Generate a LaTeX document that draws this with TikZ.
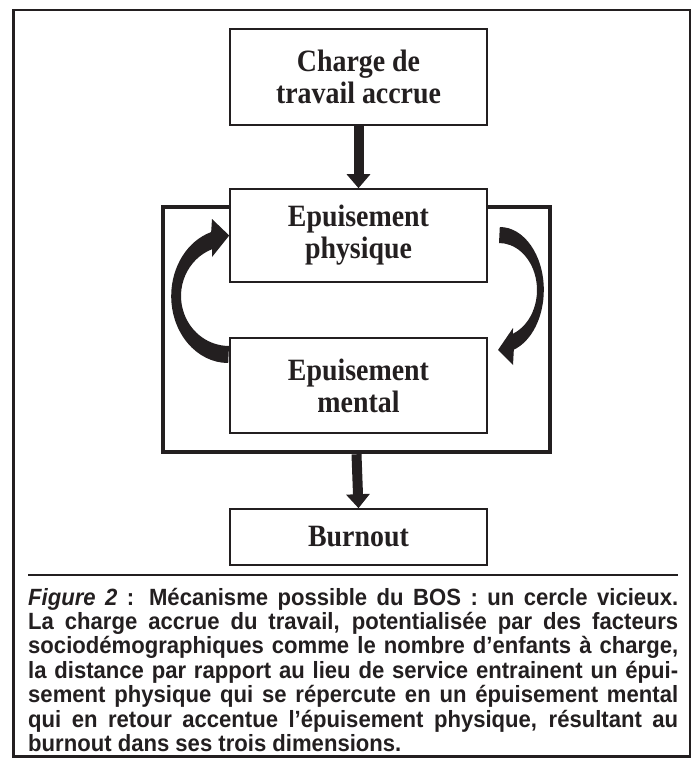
\documentclass[tikz,border=0pt]{standalone}
\usepackage{fontspec}
\setmainfont{Liberation Serif}
\newfontfamily\boxfont[FakeStretch=0.9]{Liberation Serif}
\newfontfamily\capfont[FakeStretch=0.94]{Liberation Sans}
\usetikzlibrary{arrows.meta,calc}
\definecolor{ink}{HTML}{231F20}
\begin{document}
\begin{tikzpicture}[x=1pt,y=-1pt,
  boxnode/.style={draw=ink, line width=1.6pt, fill=white, minimum width=257pt,
    inner sep=0pt, align=center, text=ink,
    font=\boxfont\fontsize{31}{32}\selectfont\bfseries},
  downarrow/.style={draw=ink, line width=10pt, -{Triangle[width=23pt,length=14pt]}},
  looparrow/.style={fill=ink},
  loopframe/.style={draw=ink, line width=4.5pt, minimum width=387pt, minimum height=245pt, inner sep=0pt},
  outerframe/.style={draw=ink, line width=2.5pt},
  rulestyle/.style={draw=ink, line width=1.2pt},
  captext/.style={anchor=base west, inner sep=0pt, text=ink,
    font=\capfont\bfseries\fontsize{23.5}{24.4}\selectfont}
  ]
\useasboundingbox (0,0) rectangle (699,765);
\draw[outerframe] (13.5,10) rectangle (690,756.5);

% loop frame
\node[loopframe] (loop) at (356.5,329.5) {};

% boxes
\node[boxnode, minimum height=96pt] (top)  at (358.5,77)    {Charge de\\travail accrue};
\node[boxnode, minimum height=93pt] (phys) at (358.5,235.5) {Epuisement\\physique};
\node[boxnode, minimum height=95pt] (ment) at (358.5,385.5) {Epuisement\\mental};
\node[boxnode, minimum height=56pt] (burn) at (358.5,537)   {Burnout};

% straight arrows
\draw[downarrow] (top.south) -- (phys.north);
\draw[downarrow] (loop.south) -- (burn.north);

% left curved arrow: from mental to physique
\fill[looparrow] ($(ment.west)+(-1,-22.5)$)
  arc[start angle=90, end angle=252.6, x radius=57, y radius=67]
  -- (212,219) -- (phys.west) -- (212,257) -- (212.04,249.2)
  arc[start angle=249.3, end angle=90, x radius=48, y radius=50]
  -- cycle;

% right curved arrow: from physique to mental
\fill[looparrow] ($(phys.east)+(12,-8.5)$)
  arc[start angle=270, end angle=431.4, x radius=44, y radius=63]
  -- (513,365) -- (498,350) -- (513,328) -- (512.98,333.7)
  arc[start angle=428.4, end angle=270, x radius=38, y radius=47]
  -- cycle;

% separator
\draw[rulestyle] (28,575) -- (678,575);

% caption
\node[captext] (cap) at (28,605) {\parbox[t]{650pt}{\hyphenpenalty=10000
{\itshape Figure 2} : Mécanisme possible du BOS : un cercle vicieux.\linebreak
La charge accrue du travail, potentialisée par des facteurs\linebreak
sociodémographiques comme le nombre d’enfants à charge,\linebreak
la distance par rapport au lieu de service entrainent un épui-\linebreak
sement physique qui se répercute en un épuisement mental\linebreak
qui en retour accentue l’épuisement physique, résultant au\linebreak
burnout dans ses trois dimensions.}};
\end{tikzpicture}
\end{document}
